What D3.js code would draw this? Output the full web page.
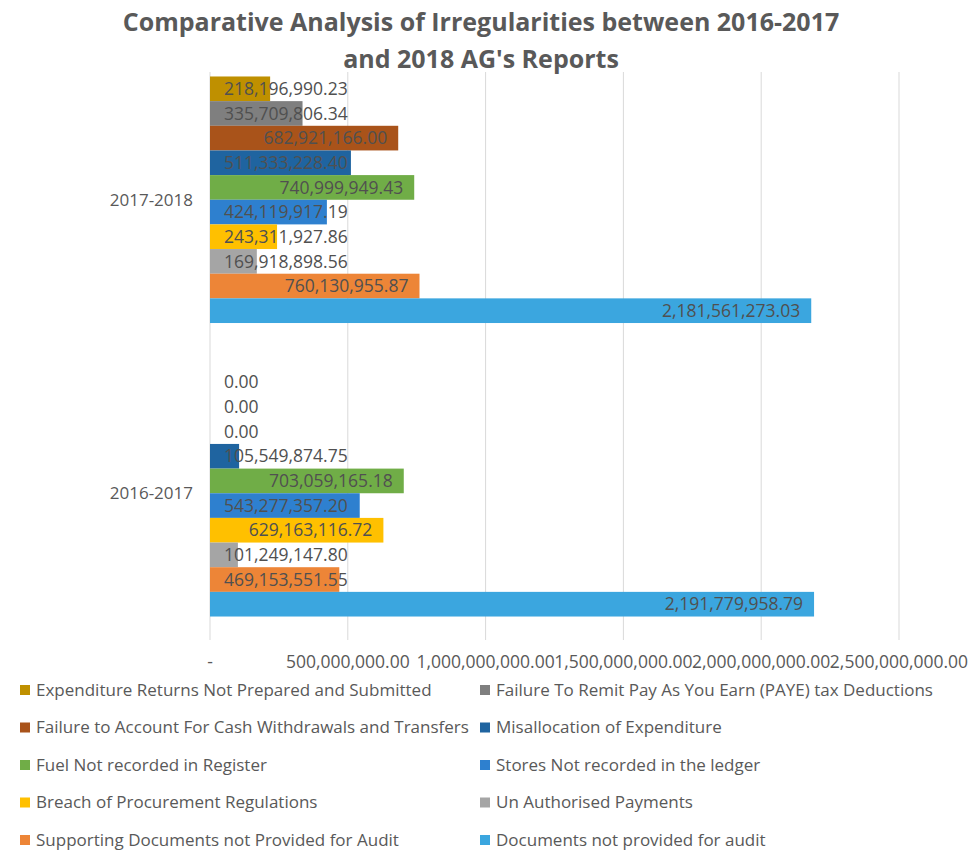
<!DOCTYPE html>
<html>
<head>
<meta charset="utf-8">
<script src="https://cdn.jsdelivr.net/npm/d3@7"></script>
<style>
  body { margin: 0; background: #fff; }
  text { font-family: "Open Sans", sans-serif; fill: #595959; }
</style>
</head>
<body>
<div id="chart"></div>
<script>
// Report periods (top to bottom)
const periods = ["2017-2018", "2016-2017"];

// Irregularity categories, in drawing order inside each group (top to bottom)
const categories = [
  "Expenditure Returns Not Prepared and Submitted",
  "Failure To Remit Pay As You Earn (PAYE) tax Deductions",
  "Failure to Account For Cash Withdrawals and Transfers",
  "Misallocation of Expenditure",
  "Fuel Not recorded in Register",
  "Stores Not recorded in the ledger",
  "Breach of Procurement Regulations",
  "Un Authorised Payments",
  "Supporting Documents not Provided for Audit",
  "Documents not provided for audit"
];

const colors = [
  "#bf9000", "#7f7f7f", "#a9531a", "#1f64a0", "#70ad47",
  "#2e80cf", "#ffc000", "#a5a5a5", "#ed8537", "#3ba6df"
];

const values2017_2018 = [
  218196990.23, 335709806.34, 682921166.00, 511333228.40, 740999949.43,
  424119917.19, 243311927.86, 169918898.56, 760130955.87, 2181561273.03
];
const values2016_2017 = [
  0, 0, 0, 105549874.75, 703059165.18,
  543277357.20, 629163116.72, 101249147.80, 469153551.55, 2191779958.79
];

const xTicks = [0, 500000000, 1000000000, 1500000000, 2000000000, 2500000000];

const width = 972, height = 852;
const plot = { left: 210, right: 899, top: 53, bottom: 640 };

const svg = d3.select("#chart").append("svg")
  .attr("width", width)
  .attr("height", height);

const x = d3.scaleLinear()
  .domain([0, 2500000000])
  .range([plot.left, plot.right]);

const y0 = d3.scaleBand()
  .domain(periods)
  .range([plot.top, plot.bottom])
  .paddingInner(0.16)
  .paddingOuter(0.08);

const y1 = d3.scaleBand()
  .domain(categories)
  .range([0, y0.bandwidth()]);

// Gridlines
svg.append("g")
  .selectAll("line")
  .data(xTicks)
  .join("line")
  .attr("x1", d => x(d)).attr("x2", d => x(d))
  .attr("y1", 72).attr("y2", plot.bottom)
  .attr("stroke", "#d9d9d9")
  .attr("stroke-width", 1);

// Title (drawn over the gridline tops)
svg.append("text")
  .attr("x", 481).attr("y", 31)
  .attr("text-anchor", "middle")
  .style("font-size", "25px").style("font-weight", "bold")
  .text("Comparative Analysis of Irregularities between 2016-2017");
svg.append("text")
  .attr("x", 481).attr("y", 68)
  .attr("text-anchor", "middle")
  .style("font-size", "25px").style("font-weight", "bold")
  .text("and 2018 AG's Reports");

// X axis tick labels
const fmt = d3.format(",.2f");
svg.append("g")
  .selectAll("text")
  .data(xTicks)
  .join("text")
  .attr("x", d => x(d))
  .attr("y", 668)
  .attr("text-anchor", "middle")
  .style("font-size", "17.5px")
  .text(d => d === 0 ? "-" : fmt(d));

// Category labels
svg.append("g")
  .selectAll("text")
  .data(periods)
  .join("text")
  .attr("x", 193)
  .attr("y", d => y0(d) + y0.bandwidth() / 2)
  .attr("dy", "0.35em")
  .attr("text-anchor", "end")
  .style("font-size", "17px")
  .text(d => d);

const rows = [];
periods.forEach(p => {
  const vals = p === "2017-2018" ? values2017_2018 : values2016_2017;
  categories.forEach((c, i) => rows.push({ period: p, cat: c, value: vals[i], color: colors[i] }));
});

const groups = svg.append("g");
groups.selectAll("rect")
  .data(rows)
  .join("rect")
  .attr("x", x(0))
  .attr("y", d => y0(d.period) + y1(d.cat))
  .attr("width", d => x(d.value) - x(0))
  .attr("height", y1.bandwidth())
  .attr("fill", d => d.color);

// Data labels: inside end if they fit, otherwise from the axis
const labels = groups.selectAll(".lbl")
  .data(rows)
  .join("text")
  .attr("class", "lbl")
  .attr("y", d => y0(d.period) + y1(d.cat) + y1.bandwidth() / 2)
  .attr("dy", "0.35em")
  .style("font-size", "17.5px")
  .style("fill", "#505050")
  .text(d => fmt(d.value));

labels.each(function(d) {
  const w = this.getComputedTextLength();
  const barW = x(d.value) - x(0);
  if (w + 26 > barW) {
    d3.select(this).attr("x", x(0) + 14).attr("text-anchor", "start");
  } else {
    d3.select(this).attr("x", x(d.value) - 11).attr("text-anchor", "end");
  }
});

// Legend, two columns
const legend = svg.append("g");
const legendItems = legend.selectAll("g")
  .data(categories)
  .join("g")
  .attr("transform", (d, i) => `translate(${i % 2 === 0 ? 20 : 480},${690 + Math.floor(i / 2) * 37.5})`);

legendItems.append("rect")
  .attr("x", 0).attr("y", -5)
  .attr("width", 10).attr("height", 10)
  .attr("fill", (d, i) => colors[i]);

legendItems.append("text")
  .attr("x", 16)
  .attr("dy", "0.35em")
  .style("font-size", "17px")
  .text(d => d);
</script>
</body>
</html>
